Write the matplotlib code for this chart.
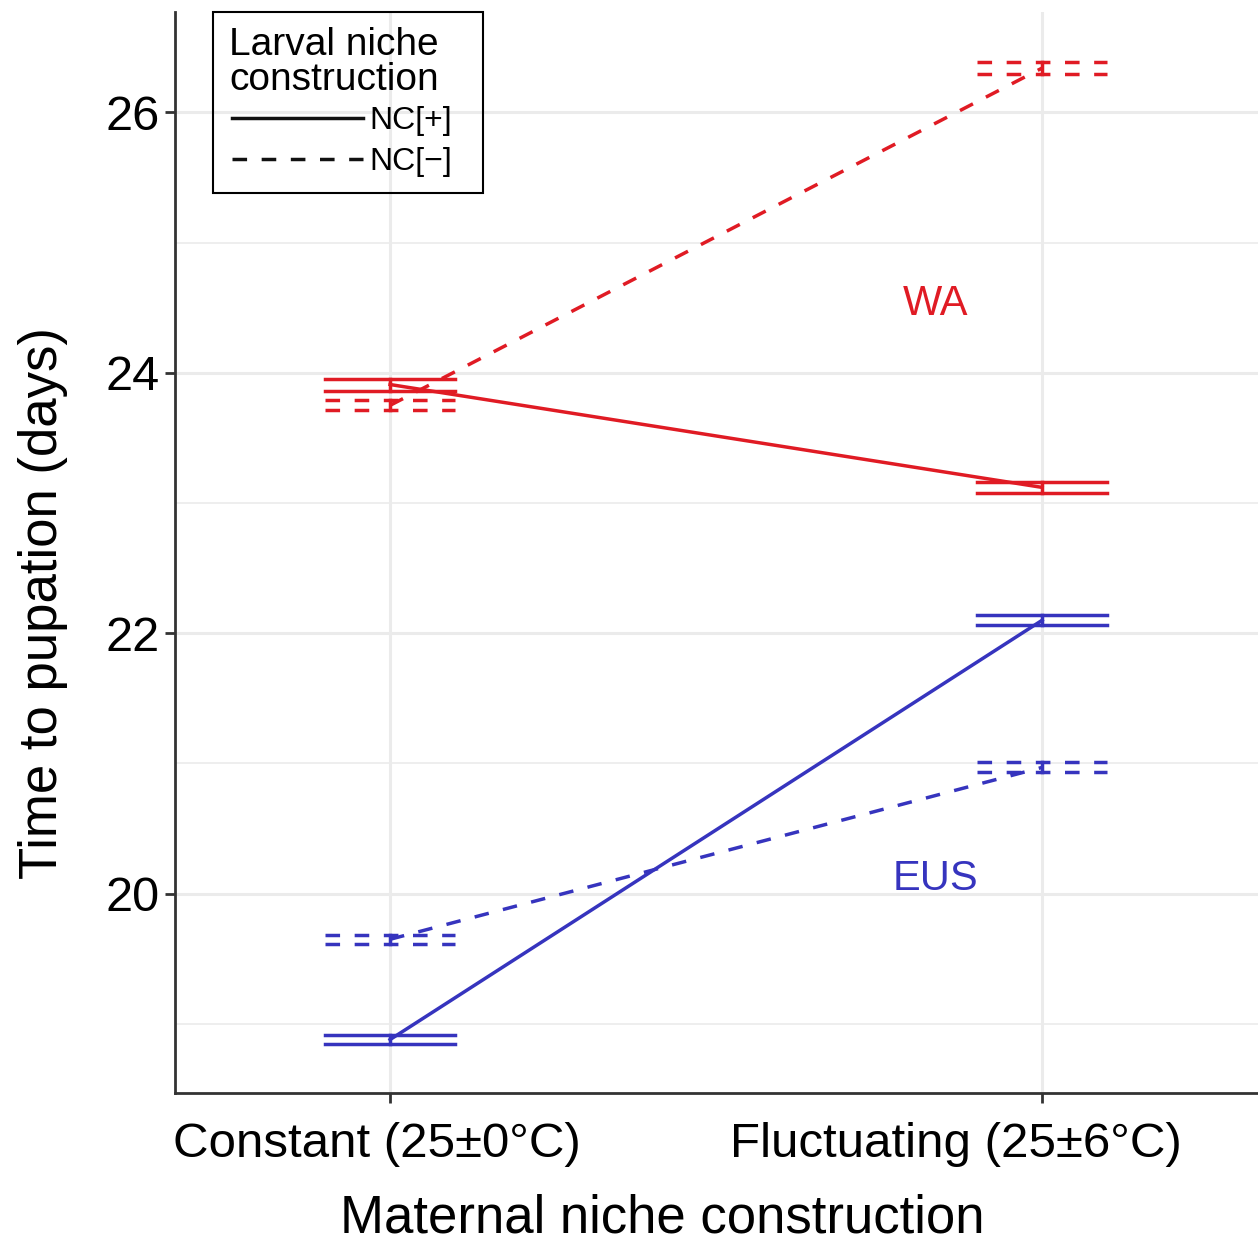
import matplotlib
matplotlib.use("Agg")
import matplotlib.pyplot as plt
from matplotlib.lines import Line2D
from matplotlib.patches import Rectangle
from matplotlib.ticker import MultipleLocator
from matplotlib.transforms import ScaledTranslation

plt.rcParams['font.family'] = ['Liberation Sans', 'DejaVu Sans']
plt.rcParams['lines.scale_dashes'] = False

# ---- data ----
categories = ["Constant (25\u00b10\u00b0C)", "Fluctuating (25\u00b16\u00b0C)"]
populations = ["WA", "EUS"]
treatments = ["NC[+]", "NC[\u2212]"]
legend_title_lines = ["Larval niche", "construction"]
means = {
    ("WA", "NC[+]"): [23.91, 23.12],
    ("WA", "NC[\u2212]"): [23.75, 26.34],
    ("EUS", "NC[+]"): [18.88, 22.10],
    ("EUS", "NC[\u2212]"): [19.65, 20.97],
}
errs = {
    ("WA", "NC[+]"): [0.046, 0.042],
    ("WA", "NC[\u2212]"): [0.038, 0.046],
    ("EUS", "NC[+]"): [0.035, 0.038],
    ("EUS", "NC[\u2212]"): [0.035, 0.038],
}
pop_colors = {"WA": "#E01B24", "EUS": "#3634BE"}
pop_label_pos = {"WA": (1.836, 24.53), "EUS": (1.836, 20.11)}

DASH = (0, (10.5, 10.5))
styles = {"NC[+]": "-", "NC[\u2212]": DASH}

W, H = 1258, 1243
fig = plt.figure(figsize=(W / 100, H / 100), dpi=100)
ax = fig.add_axes([0.139, 0.1207, 0.861, 0.8696])

xs = [1, 2]
lw = 2.5
for pop in populations:
    for tr in treatments:
        m = means[(pop, tr)]
        e = errs[(pop, tr)]
        c = pop_colors[pop]
        ls = styles[tr]
        ax.plot(xs, m, color=c, lw=lw, linestyle=ls, zorder=3)
        for x, mv, ev in zip(xs, m, e):
            for yv in (mv - ev, mv + ev):
                ax.plot([x - 0.1, x + 0.1], [yv, yv], color=c, lw=lw,
                        linestyle=ls, zorder=3)
            ax.plot([x, x], [mv - ev, mv + ev], color=c, lw=lw, zorder=3)

for pop in populations:
    px, py = pop_label_pos[pop]
    ax.text(px, py, pop, color=pop_colors[pop], fontsize=30,
            ha='center', va='center')

ax.set_xlim(0.67, 2.331)
ax.set_ylim(18.47, 26.77)
ax.set_xticks(xs)
ax.set_xticklabels(categories)
ax.yaxis.set_major_locator(MultipleLocator(2))
ax.yaxis.set_minor_locator(MultipleLocator(1))

ax.grid(True, which='major', axis='both', color='#EBEBEB', lw=2.2, zorder=0)
ax.grid(True, which='minor', axis='y', color='#EBEBEB', lw=1.2, zorder=0)
ax.set_axisbelow(True)

for s in ['top', 'right']:
    ax.spines[s].set_visible(False)
for s in ['left', 'bottom']:
    ax.spines[s].set_color('#333333')
    ax.spines[s].set_linewidth(2.0)

ax.tick_params(axis='both', which='major', length=7, width=2.0,
               color='#333333', labelcolor='black')
ax.tick_params(axis='y', which='minor', length=0)
ax.tick_params(axis='y', labelsize=35, pad=4)
ax.tick_params(axis='x', labelsize=35.5, pad=14)

# tick label horizontal offsets (pixels) as in the reference layout
for lab, dx in zip(ax.get_xticklabels(), [-13, -86]):
    lab.set_transform(lab.get_transform() +
                      ScaledTranslation(dx / 100, 0, fig.dpi_scale_trans))

ax.set_xlabel("Maternal niche construction", fontsize=38)
ax.xaxis.set_label_coords(0.45, -0.093)
ax.set_ylabel("Time to pupation (days)", fontsize=38)
ax.yaxis.set_label_coords(-0.099, 0.453)

# legend entries
handles = [Line2D([], [], color='#111111', lw=2.5, linestyle='-'),
           Line2D([], [], color='#111111', lw=2.5, linestyle=DASH)]
leg = ax.legend(handles, treatments,
                loc='center left',
                bbox_to_anchor=((232 - 175) / 1083, (1093 - 141.5) / 1081),
                borderaxespad=0.0, borderpad=0.0,
                fontsize=23, handlelength=4.1,
                handletextpad=0.2, frameon=False,
                labelspacing=0.36)

# legend title
for txt, base in zip(legend_title_lines, [55, 90]):
    fig.text(229 / W, 1 - base / H, txt, fontsize=28, ha='left',
             va='baseline')

# legend frame box
fig.add_artist(Rectangle((213 / W, 1 - 193 / H), 270 / W, 181 / H,
                         transform=fig.transFigure, fill=False,
                         edgecolor='black', lw=1.5, zorder=10))

fig.savefig("out.png", dpi=100)
